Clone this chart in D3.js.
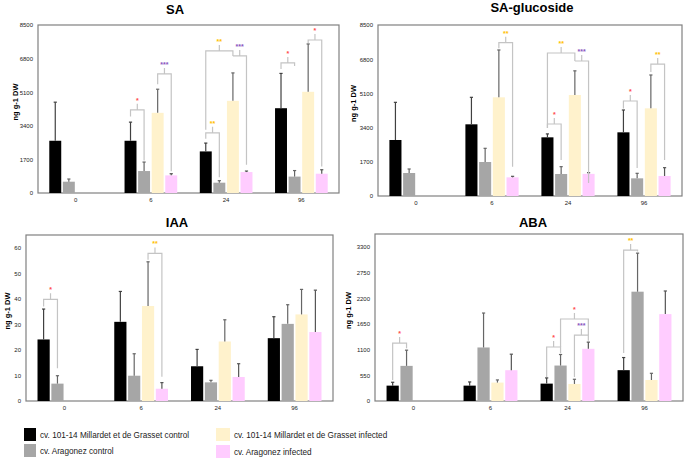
<!DOCTYPE html>
<html>
<head>
<meta charset="utf-8">
<script src="https://cdn.jsdelivr.net/npm/d3@7"></script>
<style>
body { margin: 0; background: #fff; }
svg { display: block; font-family: "Liberation Sans", Arial, sans-serif; }
</style>
</head>
<body>
<svg id="chart" width="685" height="460"></svg>
<script>
// categories
const times = ["0", "6", "24", "96"];
const seriesNames = [
    "cv. 101-14 Millardet et de Grasset control",
    "cv. Aragonez control",
    "cv. 101-14 Millardet et de Grasset infected",
    "cv. Aragonez infected"
];
const seriesColors = ["#000000", "#a6a6a6", "#fff2cc", "#ffccff"];
const errColors = ["#404040", "#666666", "#666666", "#555555"];
const starColors = { red: "#ff4b4b", yellow: "#ffc000", purple: "#8a55c0" };

// SA (means and sd per series, one value per time point)
const saMeans = [
    [2643, 2643, 2104, 4290],
    [572, 1111, 522, 830],
    [null, 4056, 4662, 5120],
    [null, 892, 1060, 976]
];
const saSd = [
    [1952, 942, 421, 1760],
    [135, 454, 101, 305],
    [null, 1195, 1414, 2420],
    [null, 84, 51, 200]
];
// brackets: time, bar a, bar b, bracket level, leg ends, label, colour
const saBrackets = [
    { t: "6", a: 0, b: 1, y: 4207, la: 3868, lb: 1650, label: "*", c: "red" },
    { t: "6", a: 2, b: 3, y: 6025, la: 5500, lb: 1100, label: "***", c: "purple" },
    { t: "24", a: 0, b: 1, y: 3045, la: 2750, lb: 800, label: "**", c: "yellow" },
    { t: "24", a: 0, b: 2, y: 7186, la: 3200, lb: 6933, label: "**", c: "yellow" },
    { t: "24", a: 2, b: 3, y: 6933, la: 6933, lb: 1430, label: "***", c: "purple" },
    { t: "96", a: 0, b: 1, y: 6580, la: 6277, lb: 6430, label: "*", c: "red" },
    { t: "96", a: 2, b: 3, y: 7742, la: 7590, lb: 1338, label: "*", c: "red" }
];

// SA-glucoside
const sagMeans = [
    [2784, 3563, 2916, 3165],
    [1143, 1690, 1094, 878],
    [null, 4905, 5021, 4358],
    [null, 928, 1100, 994]
];
const sagSd = [
    [1872, 1342, 170, 1110],
    [199, 680, 364, 249],
    [null, 2353, 1200, 1657],
    [null, 50, 60, 414]
];
const sagBrackets = [
    { t: "6", a: 2, b: 3, y: 7619, la: 7350, lb: 1456, label: "**", c: "yellow" },
    { t: "24", a: 0, b: 1, y: 3578, la: 3380, lb: 1789, label: "*", c: "red" },
    { t: "24", a: 0, b: 2, y: 7107, la: 3380, lb: 6710, label: "**", c: "yellow" },
    { t: "24", a: 2, b: 3, y: 6710, la: 6710, lb: 646, label: "***", c: "purple" },
    { t: "96", a: 0, b: 1, y: 4722, la: 4350, lb: 1392, label: "*", c: "red" },
    { t: "96", a: 2, b: 3, y: 6560, la: 6163, lb: 1789, label: "**", c: "yellow" }
];

// IAA
const iaaMeans = [
    [24.1, 31.0, 13.6, 24.6],
    [6.8, 9.9, 7.3, 30.2],
    [null, 37.2, 23.3, 33.9],
    [null, 4.8, 9.4, 27.0]
];
const iaaSd = [
    [11.9, 11.9, 6.6, 8.4],
    [3.1, 8.6, 0.8, 7.5],
    [null, 17.3, 8.5, 9.8],
    [null, 2.4, 5.2, 16.4]
];
const iaaBrackets = [
    { t: "0", a: 0, b: 1, y: 39.8, la: 37, lb: 12.8, label: "*", c: "red" },
    { t: "6", a: 2, b: 3, y: 57.8, la: 55.3, lb: 9.5, label: "**", c: "yellow" }
];

// ABA
const abaMeans = [
    [329, 329, 372, 660],
    [752, 1146, 759, 2340],
    [null, 394, 365, 450],
    [null, 659, 1117, 1860]
];
const abaSd = [
    [72, 79, 122, 270],
    [336, 737, 236, 825],
    [null, 57, 100, 143],
    [null, 343, 143, 495]
];
const abaBrackets = [
    { t: "0", a: 0, b: 1, y: 1241, la: 449, lb: 1130, label: "*", c: "red" },
    { t: "24", a: 0, b: 1, y: 1156, la: 514, lb: 1020, label: "*", c: "red" },
    { t: "24", a: 1, b: 3, y: 1755, la: 1156, lb: 1412, label: "*", c: "red" },
    { t: "24", a: 2, b: 3, y: 1412, la: 514, lb: 1290, label: "***", c: "purple" },
    { t: "96", a: 0, b: 1, y: 3231, la: 1027, lb: 3200, label: "**", c: "yellow" }
];

const panels = [
    { title: "SA", titleX: 175, titleY: 14, means: saMeans, sd: saSd, brackets: saBrackets,
      max: 8500, ticks: d3.range(0, 8501, 1700), left: 38, right: 339, top: 25, bottom: 193, labelX: 18 },
    { title: "SA-glucoside", titleX: 532, titleY: 12, means: sagMeans, sd: sagSd, brackets: sagBrackets,
      max: 8500, ticks: d3.range(0, 8501, 1700), left: 378, right: 682, top: 25, bottom: 196, labelX: 356 },
    { title: "IAA", titleX: 177, titleY: 227, means: iaaMeans, sd: iaaSd, brackets: iaaBrackets,
      max: 65, ticks: d3.range(0, 61, 10), left: 26, right: 333, top: 235, bottom: 401, labelX: 9.5 },
    { title: "ABA", titleX: 533, titleY: 227, means: abaMeans, sd: abaSd, brackets: abaBrackets,
      max: 3575, ticks: d3.range(0, 3301, 550), left: 375, right: 683, top: 234, bottom: 401, labelX: 351 }
];

const svg = d3.select("#chart");

panels.forEach((p) => {
    const g = svg.append("g");

    const x0 = d3.scaleBand().domain(times).range([p.left, p.right])
        .paddingInner(0.3).paddingOuter(0.15);
    const x1 = d3.scaleBand().domain(d3.range(4)).range([0, x0.bandwidth()])
        .paddingInner(0.12);
    const y = d3.scaleLinear().domain([0, p.max]).range([p.bottom, p.top]);
    const cx = (t, s) => x0(t) + x1(s) + x1.bandwidth() / 2;

    // title
    g.append("text")
        .attr("x", p.titleX)
        .attr("y", p.titleY)
        .attr("text-anchor", "middle")
        .attr("font-size", 13)
        .attr("font-weight", "bold")
        .text(p.title);

    // y label
    g.append("text")
        .attr("transform", `translate(${p.labelX},${(p.top + p.bottom) / 2 - 7}) rotate(-90)`)
        .attr("text-anchor", "middle")
        .attr("font-size", 7.5)
        .attr("font-weight", "bold")
        .text("ng g-1 DW");

    // frame
    g.append("rect")
        .attr("x", p.left)
        .attr("y", p.top)
        .attr("width", p.right - p.left)
        .attr("height", p.bottom - p.top)
        .attr("fill", "none")
        .attr("stroke", "#808080")
        .attr("stroke-width", 1.2);

    // axes
    g.append("g")
        .attr("transform", `translate(${p.left},0)`)
        .call(d3.axisLeft(y).tickValues(p.ticks).tickFormat(d3.format("d")).tickSize(0).tickPadding(5))
        .call((a) => a.select(".domain").remove())
        .selectAll("text")
        .attr("font-size", 6)
        .attr("font-family", "Liberation Sans, Arial, sans-serif")
        .attr("fill", "#222");
    g.append("g")
        .attr("transform", `translate(0,${p.bottom})`)
        .call(d3.axisBottom(x0).tickSize(0).tickPadding(5))
        .call((a) => a.select(".domain").remove())
        .selectAll("text")
        .attr("font-size", 6)
        .attr("font-family", "Liberation Sans, Arial, sans-serif")
        .attr("fill", "#222");

    // bars + error bars
    p.means.forEach((vals, s) => {
        vals.forEach((v, i) => {
            if (v === null) return;
            const t = times[i];
            g.append("rect")
                .attr("x", x0(t) + x1(s))
                .attr("y", y(v))
                .attr("width", x1.bandwidth())
                .attr("height", y(0) - y(v))
                .attr("fill", seriesColors[s]);
            const top = v + p.sd[s][i];
            const xc = cx(t, s);
            g.append("line")
                .attr("x1", xc).attr("x2", xc)
                .attr("y1", y(v)).attr("y2", y(top))
                .attr("stroke", errColors[s])
                .attr("stroke-width", 1.2);
            g.append("line")
                .attr("x1", xc - 1.6).attr("x2", xc + 1.6)
                .attr("y1", y(top)).attr("y2", y(top))
                .attr("stroke", errColors[s])
                .attr("stroke-width", 1.2);
        });
    });

    // significance brackets
    p.brackets.forEach((b) => {
        const xa = cx(b.t, b.a);
        const xb = cx(b.t, b.b);
        const yy = y(b.y);
        const xm = (xa + xb) / 2;
        g.append("path")
            .attr("d", `M${xa},${y(b.la)}V${yy}H${xb}V${y(b.lb)}M${xm},${yy}V${yy - 6}`)
            .attr("fill", "none")
            .attr("stroke", "#c4c4c4")
            .attr("stroke-width", 1.2);
        g.append("text")
            .attr("x", xm)
            .attr("y", yy - 7)
            .attr("text-anchor", "middle")
            .attr("font-size", 7)
            .attr("font-weight", "bold")
            .attr("fill", starColors[b.c])
            .text(b.label);
    });
});

// legend
const legendPos = [
    { x: 24, y: 428, w: 12 },
    { x: 24, y: 444, w: 12 },
    { x: 216, y: 428, w: 14 },
    { x: 216, y: 445, w: 14 }
];
const legend = svg.append("g");
seriesNames.forEach((name, i) => {
    const lp = legendPos[i];
    legend.append("rect")
        .attr("x", lp.x)
        .attr("y", lp.y)
        .attr("width", lp.w)
        .attr("height", 13)
        .attr("fill", seriesColors[i]);
    legend.append("text")
        .attr("x", lp.x + lp.w + 4)
        .attr("y", lp.y + 9.5)
        .attr("font-size", 8.2)
        .attr("fill", "#222")
        .text(name);
});
</script>
</body>
</html>
